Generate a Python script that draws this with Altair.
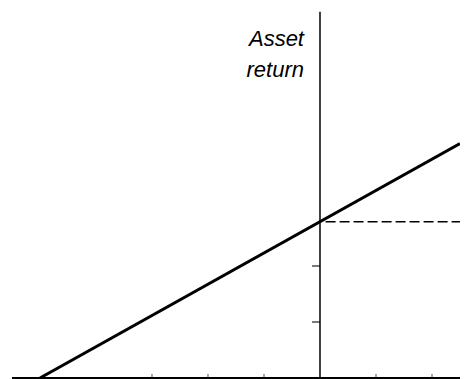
import altair as alt
import pandas as pd

# data (units: one tick interval)
x_right = 2.5
line_slope = 2.79 / 5.0
line_x = [-5.0, x_right]
line_y = [0.0, 2.79 + line_slope * x_right]
dash_x = [0.1, x_right]
dash_y = [2.79, 2.79]
xticks = [-3, -2, -1, 1, 2]
yticks = [1, 2]
x_axis_span = [-5.5, x_right]
y_axis_span = [0.0, 6.54]

xs = alt.Scale(domain=[-5.571, 2.5], nice=False, zero=False)
ys = alt.Scale(domain=[-0.018, 6.607], nice=False, zero=False)

line_df = pd.DataFrame({"x": line_x, "y": line_y})
dash_df = pd.DataFrame({"x": dash_x, "y": dash_y})
xt_df = pd.DataFrame({"x": xticks, "y": [0] * len(xticks)})
yt_df = pd.DataFrame({"x": [0] * len(yticks), "y": yticks})
hax = pd.DataFrame({"x": [x_axis_span[0]], "x2": [x_axis_span[1]], "y": [0.0]})
vax = pd.DataFrame({"x": [0.0], "y": [y_axis_span[0]], "y2": [y_axis_span[1]]})
lbl = pd.DataFrame({"x": [0.0], "y": [5.93], "t": [["Asset", "return"]]})

X = lambda f="x": alt.X(f"{f}:Q", scale=xs, axis=None)
Y = lambda f="y": alt.Y(f"{f}:Q", scale=ys, axis=None)

h = alt.Chart(hax).mark_rule(color="black", strokeWidth=2).encode(x=X(), x2="x2:Q", y=Y())
v = alt.Chart(vax).mark_rule(color="black", strokeWidth=1.5).encode(x=X(), y=Y(), y2="y2:Q")
ln = alt.Chart(line_df).mark_line(color="black", strokeWidth=3).encode(x=X(), y=Y())
dl = alt.Chart(dash_df).mark_line(color="black", strokeWidth=1.5, strokeDash=[10, 4]).encode(x=X(), y=Y())
xt = alt.Chart(xt_df).mark_tick(color="black", orient="vertical", size=4, thickness=1, yOffset=-2).encode(x=X(), y=Y())
yt = alt.Chart(yt_df).mark_tick(color="black", orient="horizontal", size=8, thickness=1.5, xOffset=-4).encode(x=X(), y=Y())
tx = alt.Chart(lbl).mark_text(
    align="right", baseline="alphabetic", dx=-16, font="Liberation Sans",
    fontStyle="italic", fontSize=22, lineHeight=31, color="black"
).encode(x=X(), y=Y(), text="t")

chart = alt.layer(h, v, dl, ln, xt, yt, tx).properties(
    width=452, height=371, padding=0, autosize=alt.AutoSizeParams(type="none")
).configure_view(stroke=None)

chart.save("out.html", embed_options={"renderer": "svg", "actions": False})
